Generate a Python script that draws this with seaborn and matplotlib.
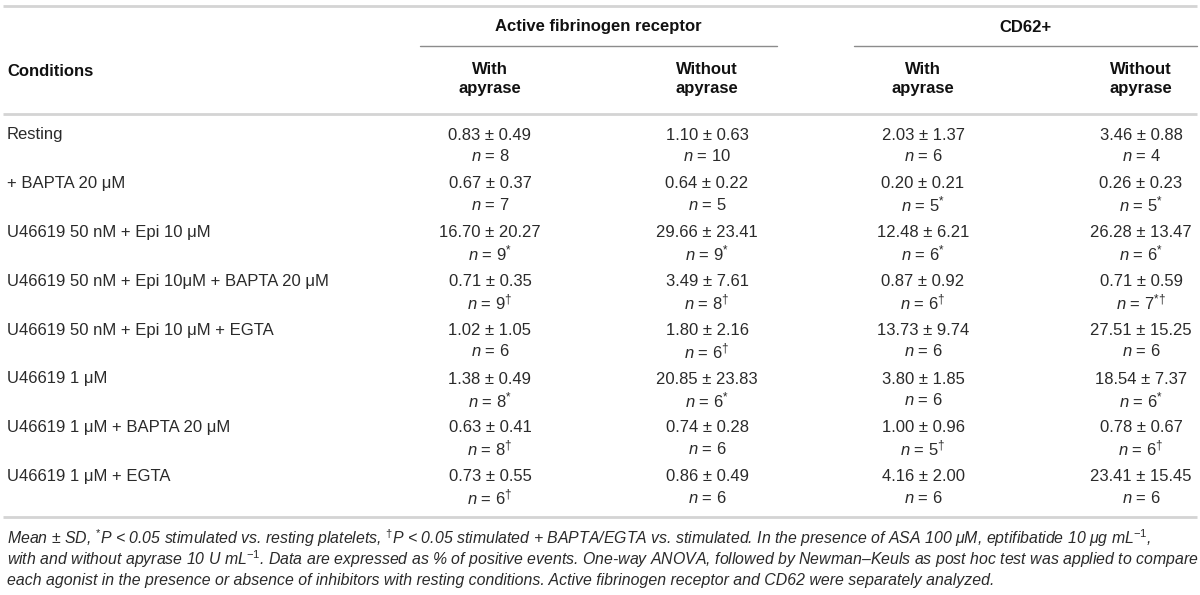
import matplotlib
matplotlib.use("Agg")
import matplotlib.pyplot as plt
import seaborn as sns

# table content
conditions = [
    "Resting",
    "+ BAPTA 20 \u03bcM",
    "U46619 50 nM + Epi 10 \u03bcM",
    "U46619 50 nM + Epi 10\u03bcM + BAPTA 20 \u03bcM",
    "U46619 50 nM + Epi 10 \u03bcM + EGTA",
    "U46619 1 \u03bcM",
    "U46619 1 \u03bcM + BAPTA 20 \u03bcM",
    "U46619 1 \u03bcM + EGTA",
]
groups = ["Active fibrinogen receptor", "CD62+"]
subheads = ["With\napyrase", "Without\napyrase", "With\napyrase", "Without\napyrase"]

afr_with_mean = [0.83, 0.67, 16.70, 0.71, 1.02, 1.38, 0.63, 0.73]
afr_with_sd = [0.49, 0.37, 20.27, 0.35, 1.05, 0.49, 0.41, 0.55]
afr_with_n = [8, 7, 9, 9, 6, 8, 8, 6]
afr_with_sig = ["", "", "*", "†", "", "*", "†", "†"]

afr_without_mean = [1.10, 0.64, 29.66, 3.49, 1.80, 20.85, 0.74, 0.86]
afr_without_sd = [0.63, 0.22, 23.41, 7.61, 2.16, 23.83, 0.28, 0.49]
afr_without_n = [10, 5, 9, 8, 6, 6, 6, 6]
afr_without_sig = ["", "", "*", "†", "†", "*", "", ""]

cd62_with_mean = [2.03, 0.20, 12.48, 0.87, 13.73, 3.80, 1.00, 4.16]
cd62_with_sd = [1.37, 0.21, 6.21, 0.92, 9.74, 1.85, 0.96, 2.00]
cd62_with_n = [6, 5, 6, 6, 6, 6, 5, 6]
cd62_with_sig = ["", "*", "*", "†", "", "", "†", ""]

cd62_without_mean = [3.46, 0.26, 26.28, 0.71, 27.51, 18.54, 0.78, 23.41]
cd62_without_sd = [0.88, 0.23, 13.47, 0.59, 15.25, 7.37, 0.67, 15.45]
cd62_without_n = [4, 5, 6, 7, 6, 6, 6, 6]
cd62_without_sig = ["", "*", "*", "*†", "", "*", "†", ""]

footnote = [
    "Mean \u00b1 SD, $^{*}$P < 0.05 stimulated vs. resting platelets, $^{\\dagger}$P < 0.05 stimulated + BAPTA/EGTA vs. "
    "stimulated. In the presence of ASA 100 \u03bcM, eptifibatide 10 \u03bcg mL$^{-1}$,",
    "with and without apyrase 10 U mL$^{-1}$. Data are expressed as % of positive events. One-way ANOVA, followed by "
    "Newman\u2013Keuls as post hoc test was applied to compare",
    "each agonist in the presence or absence of inhibitors with resting conditions. Active fibrinogen receptor and CD62 "
    "were separately analyzed.",
]

columns = [
    (afr_with_mean, afr_with_sd, afr_with_n, afr_with_sig),
    (afr_without_mean, afr_without_sd, afr_without_n, afr_without_sig),
    (cd62_with_mean, cd62_with_sd, cd62_with_n, cd62_with_sig),
    (cd62_without_mean, cd62_without_sd, cd62_without_n, cd62_without_sig),
]

sns.set_theme(style="white")
plt.rcParams["font.family"] = ["Liberation Sans", "DejaVu Sans"]
plt.rcParams["mathtext.fontset"] = "custom"
plt.rcParams["mathtext.rm"] = "Liberation Sans"
plt.rcParams["mathtext.it"] = "Liberation Sans:italic"
plt.rcParams["mathtext.bf"] = "Liberation Sans:bold"

fig = plt.figure(figsize=(12, 5.95), dpi=100)
ax = fig.add_axes([0, 0, 1, 1])
ax.set_xlim(0, 1200)
ax.set_ylim(595, 0)
ax.axis("off")

# layout
col_x = [490, 707, 923, 1141]
group_spans = [(420, 777), (854, 1197)]
row0, row_step, n_off = 135, 48.8, 21
body_size, head_size, foot_size = 12, 12, 11.4
txt = "#2a2a2a"
rule = "#d4d4d4"

for y in (6, 114, 517):
    ax.plot([3, 1197], [y, y], color=rule, lw=2, solid_capstyle="butt")

for name, (x0, x1) in zip(groups, group_spans):
    ax.text((x0 + x1) / 2, 27, name, ha="center", va="center", fontsize=head_size,
            fontweight="bold", color="#111111")
    ax.plot([x0, x1], [46, 46], color="#8c8c8c", lw=1)

ax.text(7, 72, "Conditions", ha="left", va="center", fontsize=head_size,
        fontweight="bold", color="#111111")
for x, sh in zip(col_x, subheads):
    ax.text(x, 79, sh, ha="center", va="center", fontsize=head_size, fontweight="bold",
            color="#111111", linespacing=1.4)

for i, cond in enumerate(conditions):
    y = row0 + i * row_step
    ax.text(7, y, cond, ha="left", va="center", fontsize=body_size, color=txt)
    for x, (means, sds, ns, sigs) in zip(col_x, columns):
        ax.text(x, y, f"{means[i]:.2f} \u00b1 {sds[i]:.2f}", ha="center", va="center",
                fontsize=body_size, color=txt)
        sig = sigs[i].replace("*", "*\\!").replace("†", "\\dagger")
        label = f"$n$ = {ns[i]}" + (f"$^{{{sig}}}$" if sig else "")
        ax.text(x, y + n_off, label, ha="center", va="center", fontsize=body_size, color=txt)

for j, line in enumerate(footnote):
    ax.text(7, 538 + j * 21.5, line, ha="left", va="center", fontsize=foot_size,
            style="italic", color=txt)

fig.savefig("out.png", dpi=100)
